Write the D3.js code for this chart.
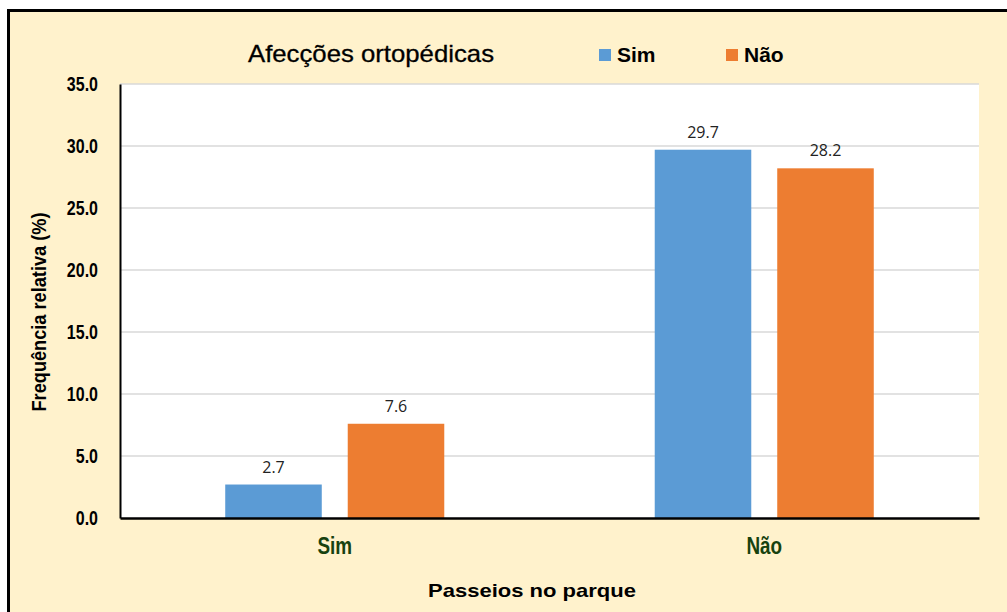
<!DOCTYPE html>
<html>
<head>
<meta charset="utf-8">
<script src="https://cdn.jsdelivr.net/npm/d3@7"></script>
<style>
  body { margin: 0; background: #fff; }
  svg { display: block; }
</style>
</head>
<body>
<div id="chart"></div>
<script>
var categories = ["Sim", "Não"];
var series = ["Sim", "Não"];
var valuesSim = [2.7, 29.7];
var valuesNao = [7.6, 28.2];
var yTicks = [0, 5, 10, 15, 20, 25, 30, 35];

function drawChart() {
  var width = 1007, height = 612;
  var colors = {"Sim": "#5B9BD5", "Não": "#ED7D31"};

  // squeeze text horizontally to mimic a narrow font
  function condense(sel, factor) {
    sel.each(function() {
      var w = this.getComputedTextLength();
      d3.select(this)
        .attr("textLength", w * factor)
        .attr("lengthAdjust", "spacingAndGlyphs");
    });
  }

  var svg = d3.select("#chart").append("svg")
    .attr("width", width)
    .attr("height", height);

  /* background + frame */
  svg.append("rect")
    .attr("x", 8.5).attr("y", 10.5)
    .attr("width", width + 20).attr("height", height + 20)
    .attr("fill", "#FFF2CC")
    .attr("stroke", "#000")
    .attr("stroke-width", 3);

  var pLeft = 120, pRight = 979, pTop = 84, pBottom = 518;

  svg.append("rect")
    .attr("x", pLeft).attr("y", pTop)
    .attr("width", pRight - pLeft).attr("height", pBottom - pTop)
    .attr("fill", "#fff");

  /* Scales */
  var x0 = d3.scaleBand().domain(categories).range([pLeft, pRight]).padding(0);
  var x1 = d3.scaleBand().domain(series).range([0, x0.bandwidth()])
    .paddingInner(0.212).paddingOuter(0.859);
  var y = d3.scaleLinear().domain([0, 35]).range([pBottom, pTop]);

  /* grid */
  svg.append("g").selectAll("line")
    .data(yTicks.filter(d => d > 0)).enter()
    .append("line")
    .attr("x1", pLeft).attr("x2", pRight)
    .attr("y1", d => y(d)).attr("y2", d => y(d))
    .attr("stroke", "#D9D9D9")
    .attr("stroke-width", 1.5);

  /* bars */
  var data = categories.map(function(c, i) {
    return {cat: c, vals: [{s: "Sim", v: valuesSim[i]}, {s: "Não", v: valuesNao[i]}]};
  });

  var groups = svg.append("g").selectAll("g")
    .data(data).enter()
    .append("g")
    .attr("transform", d => `translate(${x0(d.cat)},0)`);

  groups.selectAll("rect")
    .data(d => d.vals).enter()
    .append("rect")
    .attr("x", d => x1(d.s))
    .attr("width", x1.bandwidth())
    .attr("y", d => y(d.v))
    .attr("height", d => y(0) - y(d.v))
    .attr("fill", d => colors[d.s]);

  groups.selectAll("text")
    .data(d => d.vals).enter()
    .append("text")
    .attr("x", d => x1(d.s) + x1.bandwidth() / 2)
    .attr("y", d => y(d.v) - 12)
    .attr("text-anchor", "middle")
    .style("font-family", "'Open Sans', sans-serif")
    .style("font-size", "16px")
    .style("fill", "#222")
    .text(d => d.v.toFixed(1));

  /* axes */
  var yAxis = d3.axisLeft(y).tickValues(yTicks).tickSize(0).tickPadding(22)
    .tickFormat(d3.format(".1f"));
  var gy = svg.append("g")
    .attr("transform", `translate(${pLeft},0)`)
    .call(yAxis);
  gy.select(".domain").attr("stroke", "#000").attr("stroke-width", 2);
  gy.selectAll("text")
    .style("font-family", "'Liberation Sans', Arial, sans-serif")
    .style("font-weight", "bold")
    .style("font-size", "20px")
    .style("fill", "#000")
    .call(condense, 0.8);

  var xAxis = d3.axisBottom(x0).tickSize(0).tickPadding(20);
  var gx = svg.append("g")
    .attr("transform", `translate(0,${pBottom})`)
    .call(xAxis);
  gx.select(".domain").attr("stroke", "#000").attr("stroke-width", 2.5);
  gx.selectAll("text")
    .style("font-family", "'Liberation Sans', Arial, sans-serif")
    .style("font-weight", "bold")
    .style("font-size", "23px")
    .style("fill", "#17420F")
    .call(condense, 0.82);

  /* titles */
  svg.append("text")
    .attr("x", 248).attr("y", 62)
    .style("font-family", "'Liberation Sans', Arial, sans-serif")
    .style("font-size", "24px")
    .style("fill", "#000")
    .style("stroke", "#000")
    .style("stroke-width", 0.3)
    .attr("textLength", 246)
    .attr("lengthAdjust", "spacingAndGlyphs")
    .text("Afecções ortopédicas");

  svg.append("text")
    .attr("x", (428 + 636) / 2).attr("y", 597)
    .attr("text-anchor", "middle")
    .style("font-family", "'Liberation Sans', Arial, sans-serif")
    .style("font-weight", "bold")
    .style("font-size", "19px")
    .style("fill", "#000")
    .attr("textLength", 208)
    .attr("lengthAdjust", "spacingAndGlyphs")
    .text("Passeios no parque");

  svg.append("text")
    .attr("transform", "translate(46,312) rotate(-90)")
    .attr("text-anchor", "middle")
    .style("font-family", "'Liberation Sans', Arial, sans-serif")
    .style("font-weight", "bold")
    .style("font-size", "20px")
    .style("fill", "#000")
    .attr("textLength", 199)
    .attr("lengthAdjust", "spacingAndGlyphs")
    .text("Frequência relativa  (%)");

  /* legend */
  var legendX = [599, 726];
  var legend = svg.append("g").selectAll("g")
    .data(series).enter()
    .append("g")
    .attr("transform", (d, i) => `translate(${legendX[i]},49)`);
  legend.append("rect")
    .attr("width", 12).attr("height", 12)
    .attr("fill", d => colors[d]);
  legend.append("text")
    .attr("x", 18).attr("y", 13)
    .style("font-family", "'Liberation Sans', Arial, sans-serif")
    .style("font-weight", "bold")
    .style("font-size", "21px")
    .style("fill", "#000")
    .text(d => d);
}

drawChart();
</script>
</body>
</html>
